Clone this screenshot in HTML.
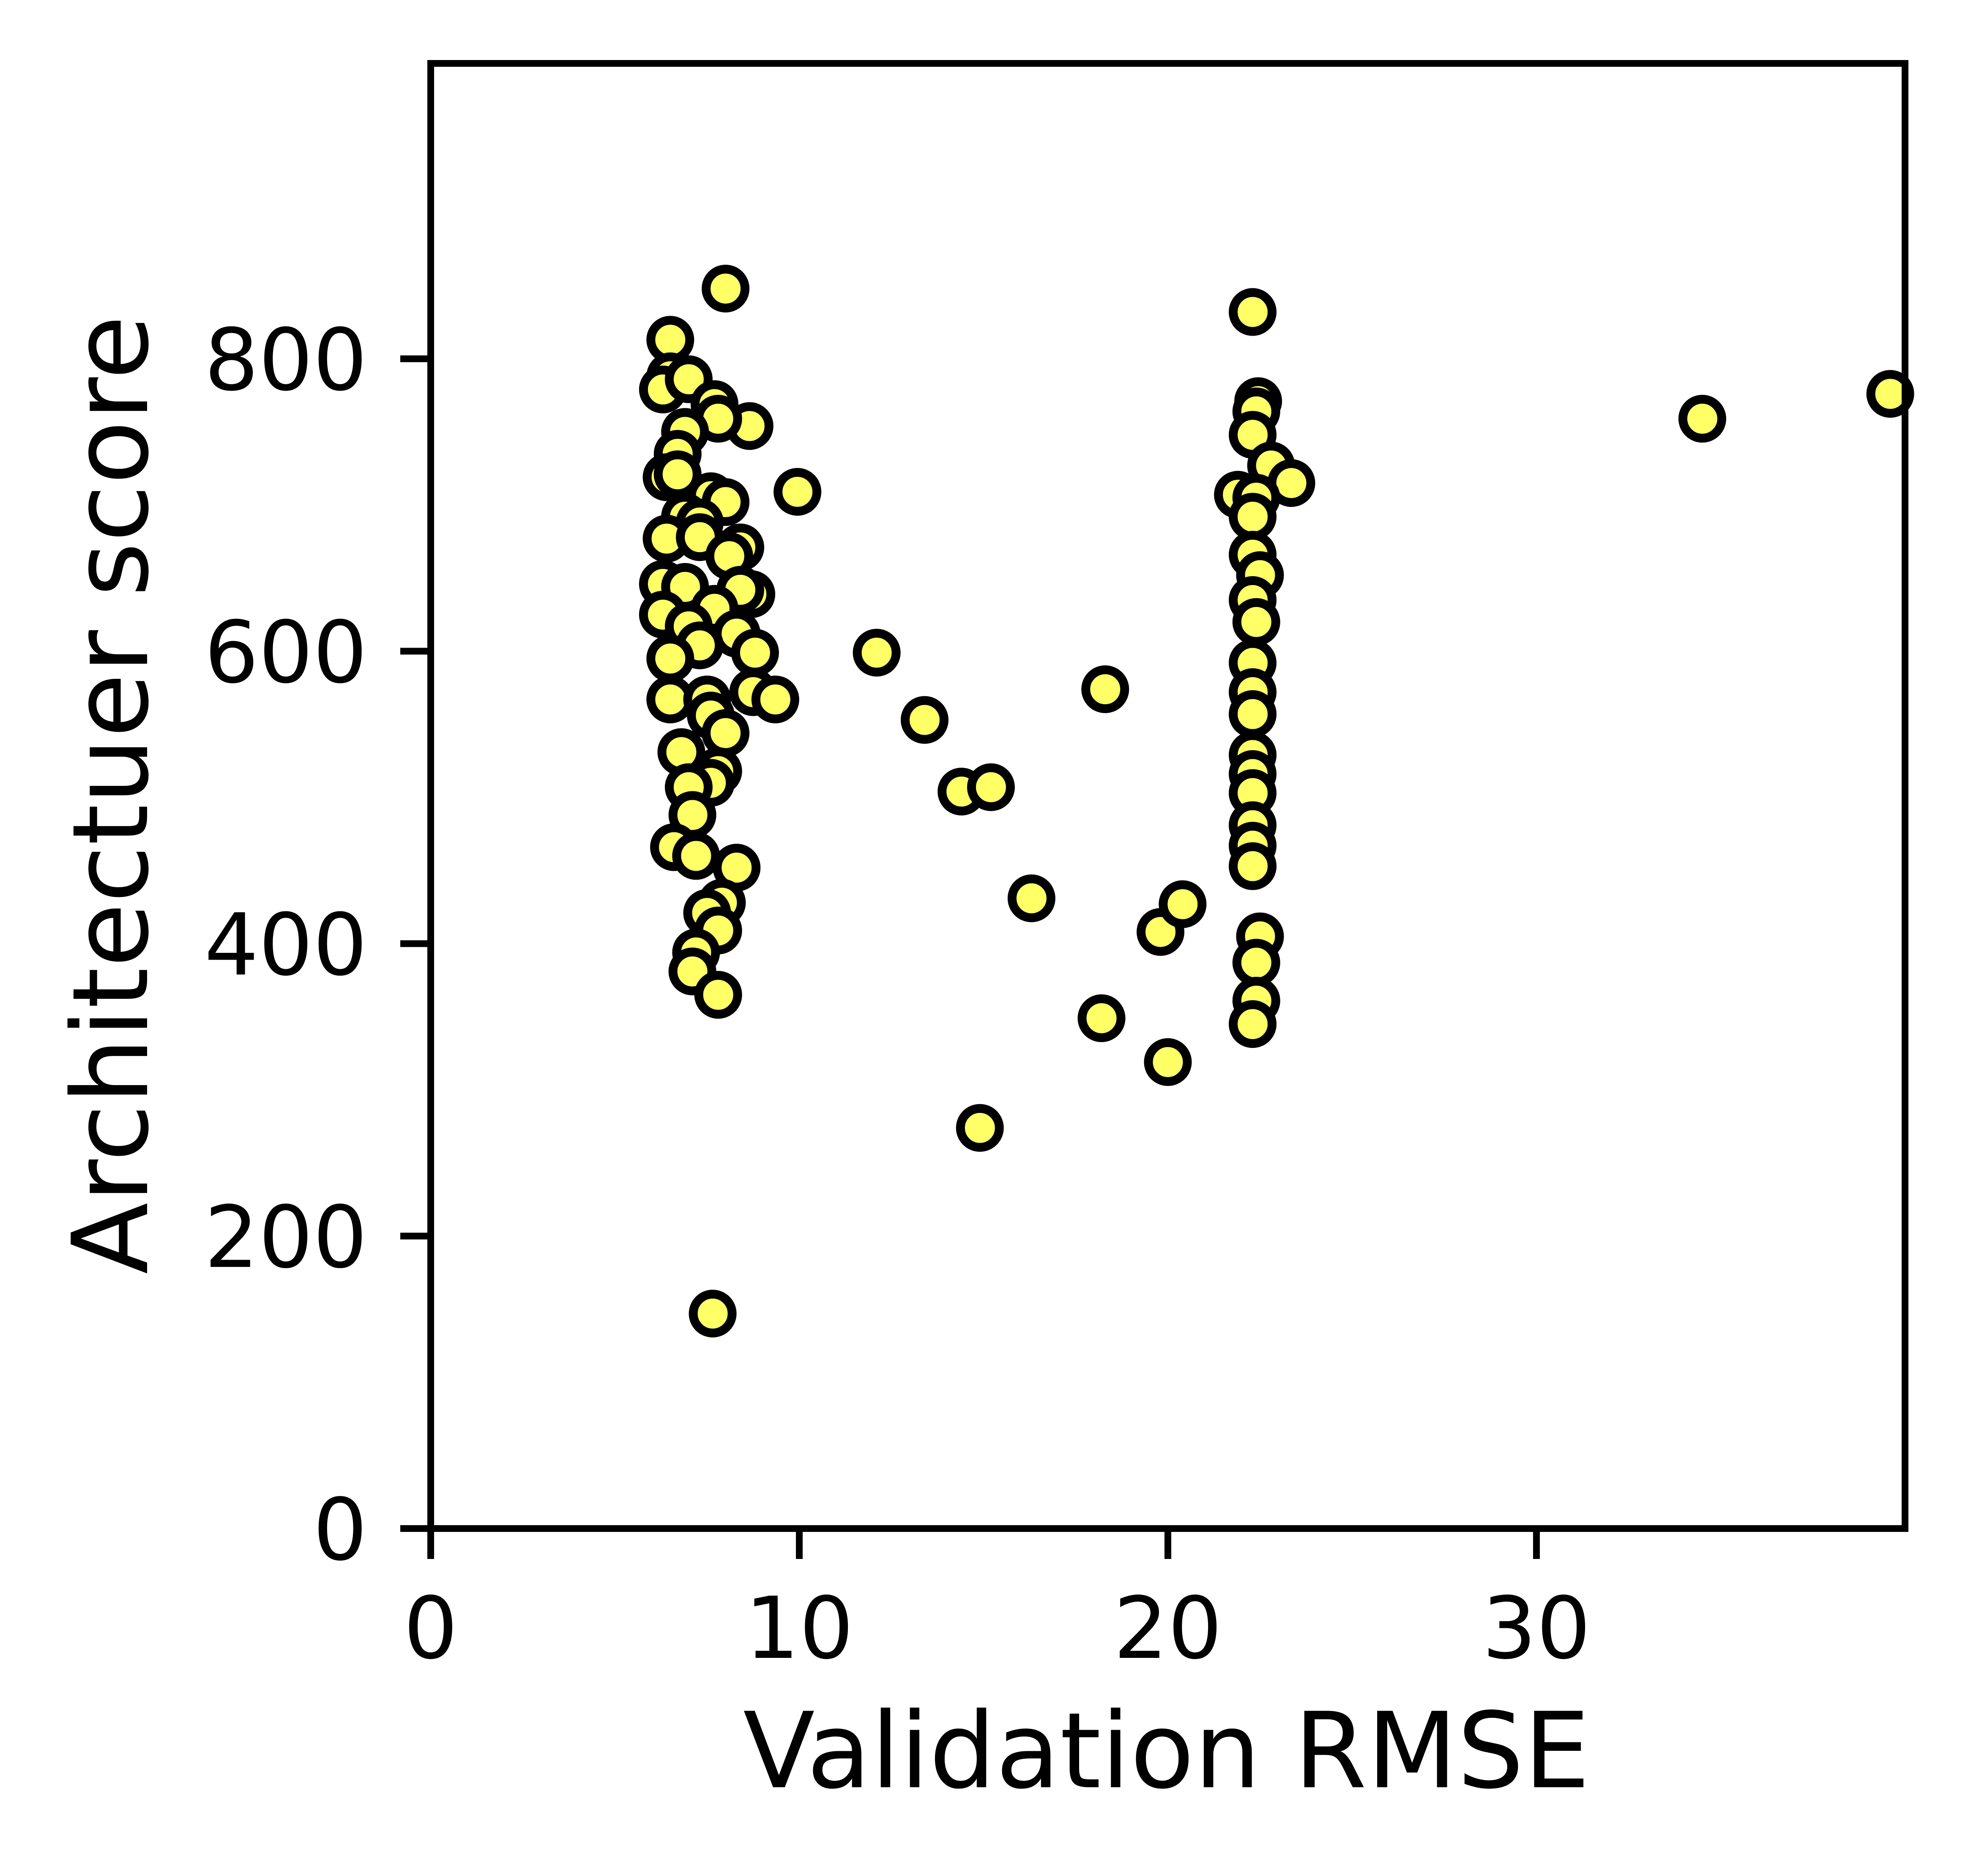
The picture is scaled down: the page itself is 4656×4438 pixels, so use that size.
<!DOCTYPE html>
<html><head><meta charset="utf-8"><style>
html,body{margin:0;padding:0;background:#fff;}
svg{display:block;}
text{font-family:"DejaVu Sans","Liberation Sans",sans-serif;fill:#000;}
</style></head><body>
<svg id="chart" width="4656" height="4438" viewBox="0 0 4656 4438" xmlns="http://www.w3.org/2000/svg">
<rect x="0" y="0" width="4656" height="4438" fill="#fff"/>
<g id="points"></g>
<g id="axes"></g>
</svg>
<script>
const xTicks = [0, 10, 20, 30];
const yTicks = [0, 200, 400, 600, 800];
const rmse = [6.5,8.0,6.5,6.3,7.0,7.7,8.65,7.8,6.9,6.7,6.4,6.7,7.6,8.0,9.95,6.9,7.3,6.4,7.3,8.4,8.1,6.3,6.9,8.7,8.4,6.3,7.7,7.0,8.3,8.8,7.3,6.5,6.5,7.5,8.75,9.35,7.6,8.0,6.8,7.8,7.6,7.0,7.1,6.6,7.2,8.3,7.9,7.5,7.8,7.2,7.1,7.8,7.65,
12.1,13.4,14.4,15.2,16.3,18.3,18.2,19.8,20.4,20.0,14.9,
22.3,22.45,22.4,22.3,22.8,23.35,21.9,22.4,22.3,22.3,22.5,22.3,22.4,22.3,22.3,22.3,22.3,22.3,22.3,22.3,22.3,22.3,22.5,22.4,22.4,22.3,
34.5,39.6];
const score = [813,848,788,779,786,769,754,759,750,735,719,721,706,702,709,692,688,677,678,671,665,646,644,639,642,625,629,617,612,599,604,595,567,567,572,567,556,544,531,518,510,507,488,466,460,452,428,421,409,394,381,365,147,
599,553,504,507,431,574,349,408,427,319,274,
832,771,764,748,727,715,707,705,692,666,652,635,620,592,572,557,529,516,503,481,467,453,405,387,361,345,
759,776];

const L=1019,R=4507,T=150,B=3616;
const xMin=0,xMax=40.0,yMin=0,yMax=1002;
const X=v=>L+(v-xMin)/(xMax-xMin)*(R-L);
const Y=v=>B-(v-yMin)/(yMax-yMin)*(B-T);
const NS="http://www.w3.org/2000/svg";
function mk(tag,attrs,parent){const e=document.createElementNS(NS,tag);for(const k in attrs)e.setAttribute(k,attrs[k]);parent.appendChild(e);return e;}
const pts=document.getElementById('points');
for(let i=0;i<rmse.length;i++){
  const c=mk('circle',{cx:X(rmse[i]),cy:Y(score[i]),r:46,fill:'#ffff66',stroke:'#000','stroke-width':21},pts);
  
  
}
const ax=document.getElementById('axes');
const frame=mk('rect',{x:L,y:T,width:R-L,height:B-T,fill:'none',stroke:'#000','stroke-width':16},ax);


for(const t of xTicks){
  const ln=mk('line',{x1:X(t),x2:X(t),y1:B,y2:B+72,stroke:'#000','stroke-width':16},ax);
  
  
  const tx=mk('text',{x:X(t),y:3922,'font-size':202,'text-anchor':'middle'},ax);
  tx.textContent=t;
  
  
}
for(const t of yTicks){
  const ln=mk('line',{x1:L-72,x2:L,y1:Y(t),y2:Y(t),stroke:'#000','stroke-width':16},ax);
  
  
  const tx=mk('text',{x:869,y:Y(t)+73,'font-size':202,'text-anchor':'end'},ax);
  tx.textContent=t;
  
  
}
const xl=mk('text',{x:2760,y:4228,'font-size':248,'text-anchor':'middle'},ax);
xl.textContent='Validation RMSE';


const yl=mk('text',{x:0,y:0,'font-size':248,'text-anchor':'middle',transform:'translate(348,1880) rotate(-90)'},ax);
yl.textContent='Architectuer score';


</script>
</body></html>
